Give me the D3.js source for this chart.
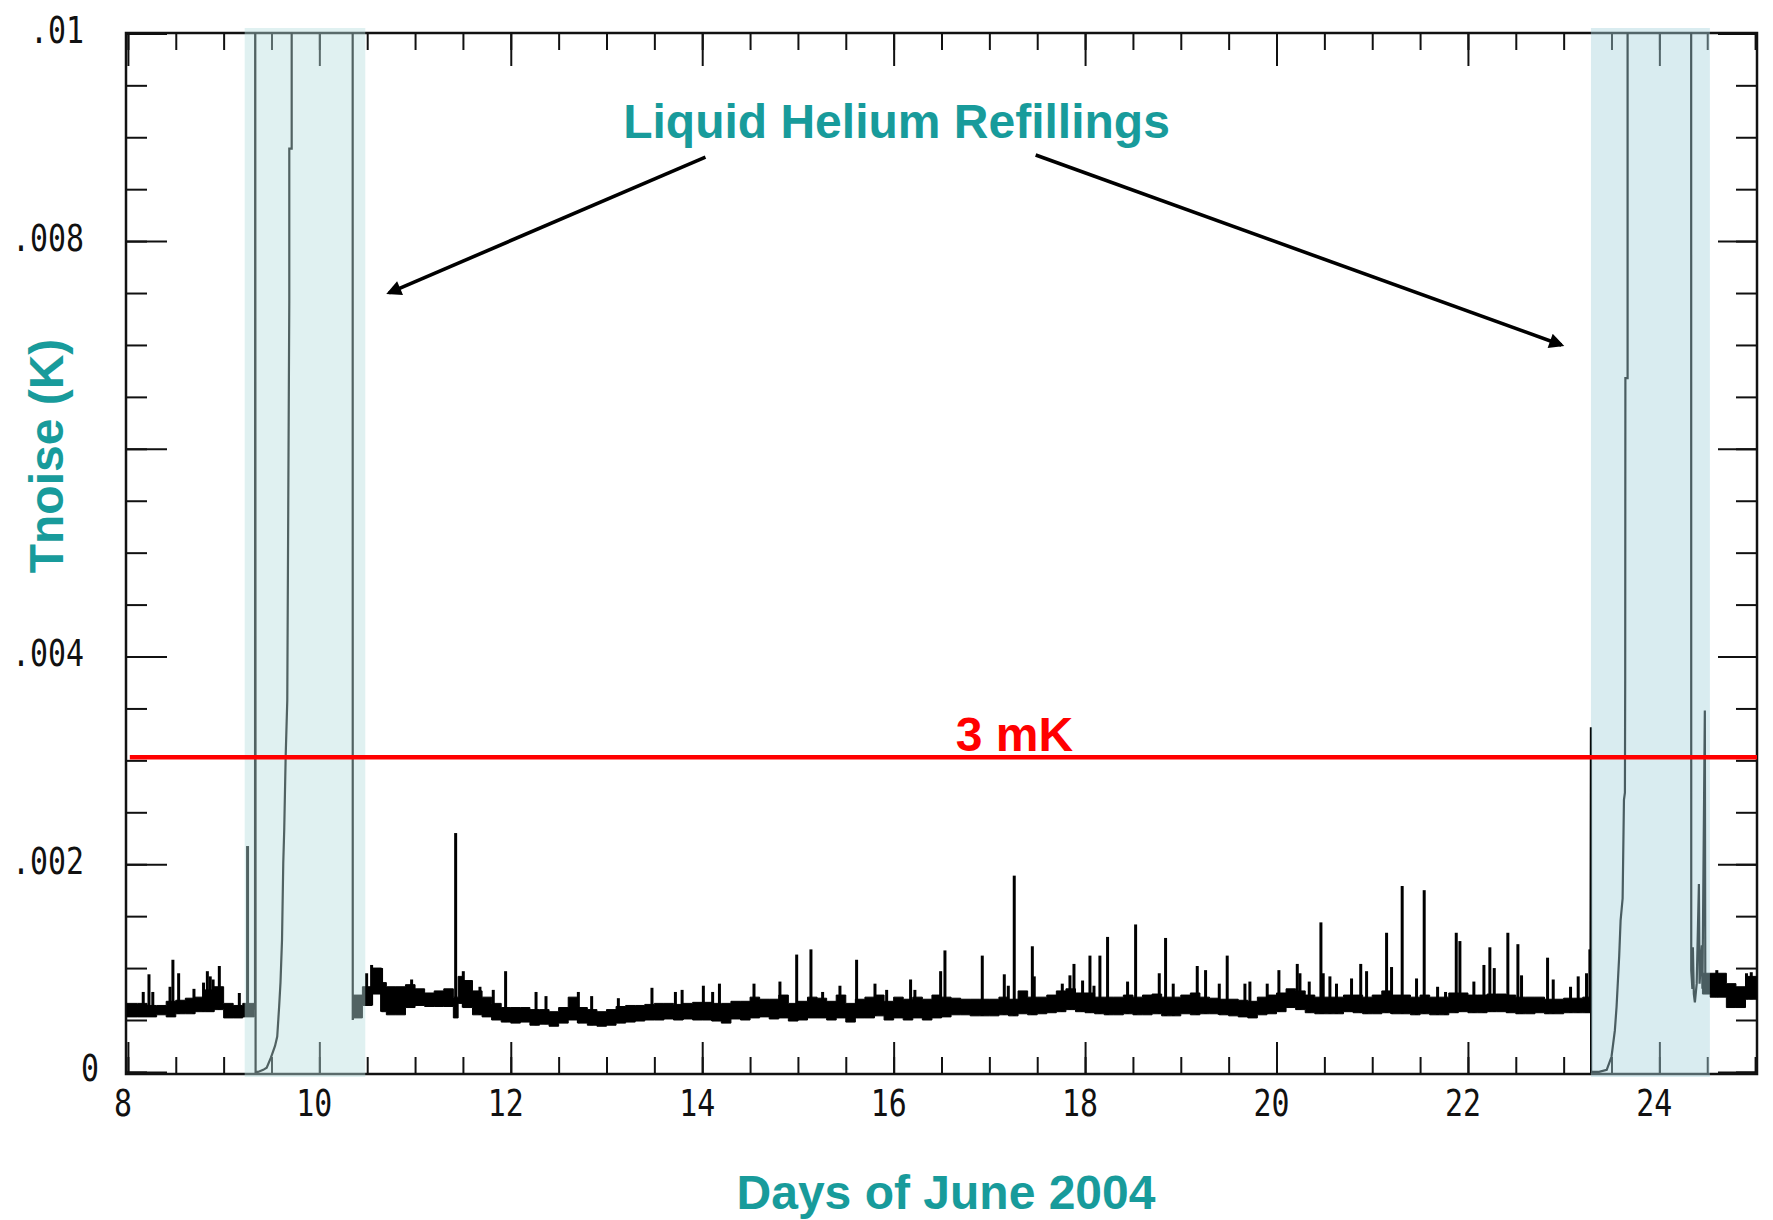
<!DOCTYPE html>
<html><head><meta charset="utf-8">
<script src="https://cdn.jsdelivr.net/npm/d3@7"></script>
<style>
html,body{margin:0;padding:0;background:#fff;}
svg{display:block;background:#fff;}
</style></head><body>
<svg id="chart" width="1773" height="1220"></svg>
<script>
// ---------------- DATA ----------------
const xTickValues = [8, 10, 12, 14, 16, 18, 20, 22, 24];
const xTickLabels = ["8", "10", "12", "14", "16", "18", "20", "22", "24"];
const yTickValues = [0, 0.002, 0.004, 0.008, 0.01];
const yTickLabels = ["0", ".002", ".004", ".008", ".01"];

// Liquid helium refilling periods (days of June 2004)
const refillStart = [9.22, 23.285];
const refillEnd = [10.48, 24.528];

// Threshold (K)
const thresholdK = 0.00303;
const thresholdLabel = "3 mK";

// Noise band: bin start day, lower / upper edge of the dense trace (mK). null = gap (refill)
const noiseDay = [
  7.99, 8.1, 8.2, 8.3, 8.4, 8.5, 8.6, 8.7, 8.8, 8.9, 9.0, 9.1, 9.2, 9.32, 9.33,
  10.35, 10.45, 10.55, 10.65, 10.7, 10.8, 10.9, 11.0, 11.1, 11.2, 11.3, 11.4, 11.45, 11.5, 11.6, 11.7, 11.8, 11.9,
  12.0, 12.1, 12.2, 12.3, 12.4, 12.5, 12.6, 12.7, 12.8, 12.9,
  13.0, 13.1, 13.2, 13.3, 13.4, 13.5, 13.6, 13.7, 13.8, 13.9,
  14.0, 14.1, 14.2, 14.3, 14.4, 14.5, 14.6, 14.7, 14.8, 14.9,
  15.0, 15.1, 15.2, 15.3, 15.4, 15.5, 15.6, 15.7, 15.8, 15.9,
  16.0, 16.1, 16.2, 16.3, 16.4, 16.5, 16.6, 16.7, 16.8, 16.9,
  17.0, 17.1, 17.2, 17.3, 17.4, 17.5, 17.6, 17.7, 17.8, 17.9,
  18.0, 18.1, 18.2, 18.3, 18.4, 18.5, 18.6, 18.7, 18.8, 18.9,
  19.0, 19.1, 19.2, 19.3, 19.4, 19.5, 19.6, 19.7, 19.8, 19.9,
  20.0, 20.1, 20.2, 20.3, 20.4, 20.5, 20.6, 20.7, 20.8, 20.9,
  21.0, 21.1, 21.2, 21.3, 21.4, 21.5, 21.6, 21.7, 21.8, 21.9,
  22.0, 22.1, 22.2, 22.3, 22.4, 22.5, 22.6, 22.7, 22.8, 22.9,
  23.0, 23.1, 23.2, 23.28, 23.29,
  24.45, 24.53, 24.6, 24.7, 24.8, 24.9, 25.02
];
const noiseLow = [
  0.53, 0.53, 0.53, 0.55, 0.53, 0.56, 0.56, 0.58, 0.58, 0.60, 0.52, 0.52, 0.53, 0.53, null,
  0.52, 0.64, 0.75, 0.58, 0.55, 0.55, 0.62, 0.64, 0.63, 0.63, 0.63, 0.52, 0.66, 0.62, 0.55, 0.53, 0.50, 0.48,
  0.47, 0.48, 0.45, 0.46, 0.44, 0.47, 0.50, 0.47, 0.45, 0.44,
  0.45, 0.47, 0.48, 0.49, 0.50, 0.50, 0.51, 0.50, 0.51, 0.50,
  0.50, 0.49, 0.47, 0.51, 0.50, 0.52, 0.53, 0.51, 0.52, 0.49,
  0.50, 0.52, 0.52, 0.50, 0.52, 0.48, 0.52, 0.52, 0.54, 0.50,
  0.52, 0.50, 0.52, 0.50, 0.52, 0.53, 0.55, 0.55, 0.54, 0.54,
  0.54, 0.55, 0.54, 0.56, 0.55, 0.56, 0.57, 0.58, 0.60, 0.58,
  0.57, 0.56, 0.55, 0.55, 0.56, 0.55, 0.55, 0.56, 0.54, 0.54,
  0.56, 0.55, 0.56, 0.56, 0.55, 0.54, 0.53, 0.52, 0.55, 0.56,
  0.58, 0.62, 0.60, 0.57, 0.56, 0.56, 0.56, 0.58, 0.57, 0.56,
  0.56, 0.57, 0.56, 0.56, 0.55, 0.56, 0.55, 0.55, 0.57, 0.58,
  0.57, 0.57, 0.58, 0.58, 0.57, 0.56, 0.56, 0.57, 0.56, 0.56,
  0.57, 0.57, 0.57, 0.57, null,
  0.75, 0.72, 0.72, 0.62, 0.62, 0.70, 0.70
];
const noiseHigh = [
  0.66, 0.66, 0.64, 0.64, 0.68, 0.69, 0.71, 0.72, 0.79, 0.82, 0.66, 0.64, 0.66, 0.66, null,
  0.74, 0.82, 1.00, 0.86, 0.82, 0.82, 0.84, 0.80, 0.76, 0.78, 0.80, 0.72, 0.92, 0.88, 0.78, 0.72, 0.66, 0.62,
  0.62, 0.62, 0.60, 0.60, 0.58, 0.62, 0.72, 0.62, 0.60, 0.58,
  0.60, 0.63, 0.64, 0.64, 0.65, 0.66, 0.66, 0.65, 0.66, 0.67,
  0.67, 0.66, 0.66, 0.68, 0.68, 0.72, 0.70, 0.70, 0.74, 0.66,
  0.68, 0.72, 0.71, 0.68, 0.74, 0.66, 0.70, 0.72, 0.74, 0.68,
  0.72, 0.70, 0.72, 0.70, 0.74, 0.72, 0.71, 0.70, 0.70, 0.70,
  0.70, 0.72, 0.70, 0.78, 0.72, 0.72, 0.74, 0.78, 0.80, 0.76,
  0.76, 0.72, 0.72, 0.72, 0.74, 0.72, 0.74, 0.75, 0.72, 0.72,
  0.74, 0.76, 0.72, 0.71, 0.70, 0.70, 0.69, 0.68, 0.72, 0.74,
  0.76, 0.80, 0.78, 0.74, 0.72, 0.72, 0.72, 0.74, 0.74, 0.72,
  0.74, 0.78, 0.74, 0.74, 0.72, 0.74, 0.72, 0.72, 0.76, 0.76,
  0.74, 0.74, 0.75, 0.75, 0.74, 0.72, 0.72, 0.72, 0.70, 0.70,
  0.71, 0.71, 0.72, 0.72, null,
  0.95, 0.95, 0.95, 0.85, 0.82, 0.92, 0.92
];

// Isolated spikes: day and peak value (mK)
const spikeDay = [
  8.16, 8.22, 8.26, 8.44, 8.47, 8.53, 8.69, 8.79, 8.83, 8.86, 8.89, 8.955, 9.164, 9.25,
  10.494, 10.546, 10.65, 10.964, 11.424, 11.504, 11.678, 11.817, 11.946,
  12.264, 12.368, 12.706, 12.845, 13.124, 13.475, 13.72, 13.79, 14.012, 14.109, 14.18,
  14.541, 14.812, 14.987, 15.136, 15.258, 15.439, 15.613, 15.805, 15.927, 16.177, 16.222, 16.491, 16.536,
  16.926, 17.156, 17.198, 17.26, 17.449, 17.469, 17.762, 17.842, 17.884, 17.974, 18.051, 18.093,
  18.155, 18.235, 18.444, 18.528, 18.775, 18.841, 18.921, 19.172, 19.259, 19.402, 19.485,
  19.67, 19.722, 19.903, 20.025, 20.217, 20.245, 20.342, 20.464, 20.488, 20.558, 20.627,
  20.784, 20.88, 20.941, 21.15, 21.202, 21.313, 21.463, 21.543, 21.683, 21.766, 21.878, 21.916,
  22.062, 22.167, 22.229, 22.275, 22.417, 22.522, 22.56, 22.832, 22.891, 23.072, 23.152, 23.239, 23.274,
  24.6, 24.91, 24.96
];
const spikePeak = [
  0.77, 0.94, 0.77, 0.82, 1.08, 0.95, 0.80, 0.86, 0.97, 0.92, 0.89, 1.02, 0.76, 2.175,
  0.95, 1.03, 1.00, 0.89, 2.30, 0.97, 0.82, 0.79, 0.97,
  0.77, 0.73, 0.77, 0.73, 0.71, 0.81, 0.77, 0.79, 0.83, 0.77, 0.85,
  0.85, 0.87, 1.13, 1.18, 0.77, 0.83, 1.08, 0.85, 0.79, 0.89, 0.79, 0.97, 1.17,
  1.12, 0.94, 0.83, 1.89, 1.21, 0.92, 0.85, 0.93, 1.04, 0.88, 1.12, 0.83,
  1.12, 1.30, 0.87, 1.42, 0.95, 1.29, 0.85, 1.02, 0.98, 0.85, 1.12,
  0.85, 0.87, 0.85, 0.98, 1.04, 0.95, 0.87, 1.44, 0.95, 0.92, 0.85,
  0.90, 1.04, 0.97, 1.34, 1.01, 1.79, 0.90, 1.75, 0.82, 0.77, 1.34, 1.26,
  0.87, 1.03, 1.20, 1.00, 1.34, 1.23, 0.93, 1.10, 0.89, 0.82, 0.92, 0.95, 1.18,
  0.98, 0.95, 0.96
];

// Trace during the refills (mK); 12 = off scale (above 10 mK)
const refill1Day = [9.32, 9.328, 9.33, 9.334, 9.359, 9.414, 9.45, 9.495, 9.537, 9.56, 9.58, 9.594, 9.61, 9.623,
  9.633, 9.648, 9.665, 9.675, 9.686, 9.686, 9.711, 9.711, 10.348, 10.349, 10.355];
const refill1Val = [0.60, 0.62, 12, 0, 0, 0.02, 0.04, 0.14, 0.25, 0.34, 0.63, 0.86, 1.27, 2.01,
  2.33, 3.03, 3.58, 5.42, 7.43, 8.89, 8.89, 12, 12, 0.50, 0.55];
const refill2Day = [23.28, 23.285, 23.287, 23.37, 23.45, 23.50, 23.535, 23.553, 23.58, 23.595, 23.616, 23.63, 23.64,
  23.643, 23.645, 23.668, 23.668, 24.332, 24.333, 24.345, 24.35, 24.36, 24.371, 24.39, 24.413, 24.42, 24.444,
  24.45, 24.475, 24.48, 24.50, 24.528];
const refill2Val = [0.62, 3.32, 0, 0, 0.02, 0.146, 0.40, 0.63, 1.11, 1.46, 1.67, 2.62, 2.69,
  3.77, 6.68, 6.68, 12, 12, 0.98, 0.80, 1.20, 0.75, 0.67, 0.85, 1.81, 0.85, 1.22,
  0.80, 3.48, 0.85, 0.78, 0.90];

// Annotation arrows: tail (day, mK) -> head (day, mK)
const arrowTailDay = [14.034, 17.484];
const arrowTailVal = [8.808, 8.829];
const arrowHeadDay = [10.728, 22.977];
const arrowHeadVal = [7.502, 7.0];

const annotationText = "Liquid Helium Refillings";
const xTitle = "Days of June 2004";
const yTitle = "Tnoise (K)";

// ---------------- CHART ----------------
const W = 1773, H = 1220;
const plot = { left: 126, right: 1757, top: 33.4, bottom: 1074 };
const teal = "#189b9b";

const svg = d3.select("#chart");
const x = d3.scaleLinear().domain([7.98, 25.02]).range([plot.left, plot.right]);
const y = d3.scaleLinear().domain([-0.00002, 0.01]).range([plot.bottom, plot.top]);
const mk = v => y(v / 1000);

svg.append("rect").attr("width", W).attr("height", H).attr("fill", "#fff");

const defs = svg.append("defs");
defs.append("clipPath").attr("id", "plotclip").append("rect")
  .attr("x", plot.left).attr("y", plot.top - 0.5)
  .attr("width", plot.right - plot.left).attr("height", plot.bottom - plot.top + 0.5);
defs.append("marker").attr("id", "arrowhead")
  .attr("viewBox", "0 0 10 10").attr("refX", 8).attr("refY", 5)
  .attr("markerUnits", "userSpaceOnUse")
  .attr("markerWidth", 22).attr("markerHeight", 15)
  .attr("orient", "auto")
  .append("path").attr("d", "M0,0 L10,5 L0,10 z").attr("fill", "#000");

// Axes (ticks pointing inward, on all four sides)
const xMinor = d3.range(8, 25.01, 0.5);
const xMajor = d3.range(8, 25.01, 2);
const yMinor = d3.range(0, 0.01001, 0.0005);
const yMajor = d3.range(0, 0.01001, 0.002);
const axisG = svg.append("g").attr("class", "axes");
function addAxis(gen, tx, ty) {
  const g = axisG.append("g").attr("transform", `translate(${tx},${ty})`).call(gen);
  g.select(".domain").remove();
  g.selectAll(".tick line").attr("stroke", "#111").attr("stroke-width", 2);
  g.selectAll(".tick text").remove();
}
addAxis(d3.axisBottom(x).tickValues(xMinor).tickSize(-17).tickFormat(""), 0, plot.bottom);
addAxis(d3.axisBottom(x).tickValues(xMajor).tickSize(-32).tickFormat(""), 0, plot.bottom);
addAxis(d3.axisTop(x).tickValues(xMinor).tickSize(-17).tickFormat(""), 0, 33);
addAxis(d3.axisTop(x).tickValues(xMajor).tickSize(-33).tickFormat(""), 0, 33);
addAxis(d3.axisLeft(y).tickValues(yMinor).tickSize(-21).tickFormat(""), plot.left, 0);
addAxis(d3.axisLeft(y).tickValues(yMajor).tickSize(-41).tickFormat(""), plot.left, 0);
addAxis(d3.axisRight(y).tickValues(yMinor).tickSize(-21).tickFormat(""), plot.right, 0);
addAxis(d3.axisRight(y).tickValues(yMajor).tickSize(-39).tickFormat(""), plot.right, 0);
axisG.append("rect").attr("x", plot.left).attr("y", 33)
  .attr("width", plot.right - plot.left).attr("height", plot.bottom - 33)
  .attr("fill", "none").attr("stroke", "#111").attr("stroke-width", 2.5);

// Tick labels
const tickFont = "'DejaVu Sans Mono', 'Liberation Mono', monospace";
const charW = 18;
svg.append("g").selectAll("text").data(xTickValues).join("text")
  .attr("x", d => x(d) - 5).attr("y", 1116)
  .attr("text-anchor", "middle")
  .attr("font-family", tickFont).attr("font-size", 37).attr("fill", "#111")
  .attr("textLength", (d, i) => xTickLabels[i].length * charW)
  .attr("lengthAdjust", "spacingAndGlyphs")
  .text((d, i) => xTickLabels[i]);
svg.append("g").selectAll("text").data(yTickValues).join("text")
  .attr("x", (d, i) => yTickLabels[i].startsWith(".") ? 84 : 99)
  .attr("y", d => y(d) + 9.5)
  .attr("text-anchor", "end")
  .attr("font-family", tickFont).attr("font-size", 37).attr("fill", "#111")
  .attr("textLength", (d, i) => yTickLabels[i].length * charW)
  .attr("lengthAdjust", "spacingAndGlyphs")
  .text((d, i) => yTickLabels[i]);

// Data trace
const traceG = svg.append("g").attr("clip-path", "url(#plotclip)");
const band = d3.area()
  .defined((d, i) => noiseLow[i] != null)
  .x((d, i) => x(noiseDay[i]))
  .y0((d, i) => mk(noiseLow[i]))
  .y1((d, i) => mk(noiseHigh[i]))
  .curve(d3.curveStepAfter);
traceG.append("path").attr("d", band(noiseDay))
  .attr("fill", "#000").attr("stroke", "#000").attr("stroke-width", 1);

traceG.append("g").selectAll("line").data(spikeDay).join("line")
  .attr("x1", d => x(d)).attr("x2", d => x(d))
  .attr("y1", d => {
    const i = Math.max(0, d3.bisectRight(noiseDay, d) - 1);
    const lo = noiseLow[i] != null ? noiseLow[i] : 0.6;
    return mk(lo);
  })
  .attr("y2", (d, i) => mk(spikePeak[i]))
  .attr("stroke", "#000").attr("stroke-width", 3);

const refLine = d3.line().x(p => x(p[0])).y(p => mk(p[1]));
traceG.append("path").attr("d", refLine(d3.zip(refill1Day, refill1Val)))
  .attr("fill", "none").attr("stroke", "#000").attr("stroke-width", 2.2);
traceG.append("path").attr("d", refLine(d3.zip(refill2Day, refill2Val)))
  .attr("fill", "none").attr("stroke", "#000").attr("stroke-width", 2.2);

// Refill shading (semi-transparent, on top of trace and axes)
const shadeColors = ["rgba(184,223,223,0.44)", "rgba(169,212,221,0.44)"];
svg.append("g").selectAll("rect").data(refillStart).join("rect")
  .attr("x", d => x(d)).attr("y", 28)
  .attr("width", (d, i) => x(refillEnd[i]) - x(d))
  .attr("height", plot.bottom + 3 - 28)
  .attr("fill", (d, i) => shadeColors[i]);

// 3 mK threshold
svg.append("line")
  .attr("x1", x(8.02)).attr("x2", x(25.02))
  .attr("y1", y(thresholdK)).attr("y2", y(thresholdK))
  .attr("stroke", "#ff0000").attr("stroke-width", 4.5);
svg.append("text")
  .attr("x", x(17.262)).attr("y", mk(3.09))
  .attr("text-anchor", "middle")
  .attr("font-family", "'Liberation Sans', Arial, sans-serif").attr("font-weight", "bold")
  .attr("font-size", 48).attr("fill", "#ff0000")
  .text(thresholdLabel);

// Annotation
svg.append("text")
  .attr("x", x(16.03)).attr("y", mk(8.993))
  .attr("text-anchor", "middle")
  .attr("font-family", "'Liberation Sans', Arial, sans-serif").attr("font-weight", "bold")
  .attr("font-size", 48).attr("fill", teal)
  .text(annotationText);
svg.append("g").selectAll("line").data(arrowTailDay).join("line")
  .attr("x1", d => x(d)).attr("y1", (d, i) => mk(arrowTailVal[i]))
  .attr("x2", (d, i) => x(arrowHeadDay[i])).attr("y2", (d, i) => mk(arrowHeadVal[i]))
  .attr("stroke", "#000").attr("stroke-width", 3.6)
  .attr("marker-end", "url(#arrowhead)");

// Axis titles
svg.append("text")
  .attr("x", 946).attr("y", 1209)
  .attr("text-anchor", "middle")
  .attr("font-family", "'Liberation Sans', Arial, sans-serif").attr("font-weight", "bold")
  .attr("font-size", 48).attr("fill", teal)
  .text(xTitle);
svg.append("text")
  .attr("transform", "translate(63,456) rotate(-90)")
  .attr("text-anchor", "middle")
  .attr("font-family", "'Liberation Sans', Arial, sans-serif").attr("font-weight", "bold")
  .attr("font-size", 48).attr("fill", teal)
  .text(yTitle);
</script>
</body></html>
